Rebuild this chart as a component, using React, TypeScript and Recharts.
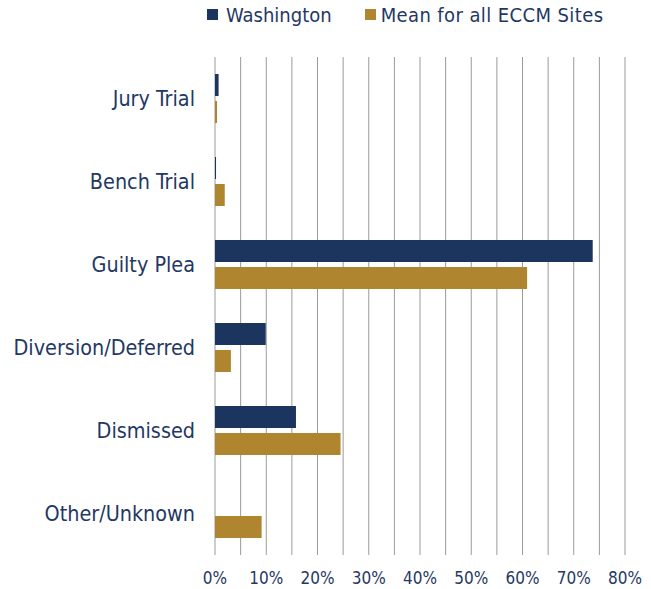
import React from 'react';
import { BarChart, Bar, XAxis, YAxis, CartesianGrid, Legend } from 'recharts';

const categories = ['Jury Trial', 'Bench Trial', 'Guilty Plea', 'Diversion/Deferred', 'Dismissed', 'Other/Unknown'];
const washington = [0.7, 0.2, 73.7, 9.9, 15.8, 0];
const meanAll = [0.4, 1.9, 60.9, 3.1, 24.5, 9.1];
const xTicks = [0, 5, 10, 15, 20, 25, 30, 35, 40, 45, 50, 55, 60, 65, 70, 75, 80];
const seriesNames = ['Washington', 'Mean for all ECCM Sites'];

const NAVY = '#1C355E';
const GOLD = '#AF862F';
const TEXT = '#1F3864';
const FONT = '"DejaVu Sans Condensed", "DejaVu Sans", sans-serif';

const data = categories.map((c, i) => ({ name: c, wa: washington[i], mean: meanAll[i] }));

const LegendContent = () => (
  <div style={{ display: 'flex', alignItems: 'center', fontFamily: FONT, fontSize: 20, color: TEXT, height: 23 }}>
    <span style={{ display: 'inline-block', width: 11, height: 11, background: NAVY, marginRight: 8 }} />
    <span style={{ marginRight: 33 }}>{seriesNames[0]}</span>
    <span style={{ display: 'inline-block', width: 11, height: 11, background: GOLD, marginRight: 5 }} />
    <span style={{ letterSpacing: 0.4 }}>{seriesNames[1]}</span>
  </div>
);

export default function App() {
  return (
    <div style={{ position: 'absolute', left: 0, top: 0, width: 651, height: 589, background: '#fff' }}>
      <BarChart
        width={651}
        height={589}
        data={data}
        layout="vertical"
        margin={{ top: 34, right: 26, bottom: 0, left: 0 }}
        barCategoryGap={17}
        barGap={5}
      >
        <CartesianGrid horizontal={false} vertical={true} stroke="#9a9a9a" />
        <XAxis
          type="number"
          domain={[0, 80]}
          ticks={xTicks}
          interval={0}
          tickFormatter={(v: number) => (v % 10 === 0 ? `${v}%` : '')}
          axisLine={false}
          tickLine={false}
          tickSize={8}
          tickMargin={9}
          height={34}
          tick={{ fill: TEXT, fontSize: 17, fontFamily: FONT }}
        />
        <YAxis
          type="category"
          dataKey="name"
          width={215}
          axisLine={false}
          tickLine={false}
          tickMargin={12}
          tickSize={8}
          interval={0}
          tick={{ fill: TEXT, fontSize: 21.4, fontFamily: FONT }}
        />
        <Legend
          verticalAlign="top"
          align="left"
          content={<LegendContent />}
          wrapperStyle={{ top: 3, left: 207, width: 'auto' }}
        />
        <Bar dataKey="wa" name={seriesNames[0]} fill={NAVY} barSize={22} isAnimationActive={false} />
        <Bar dataKey="mean" name={seriesNames[1]} fill={GOLD} barSize={22} isAnimationActive={false} />
      </BarChart>
    </div>
  );
}
